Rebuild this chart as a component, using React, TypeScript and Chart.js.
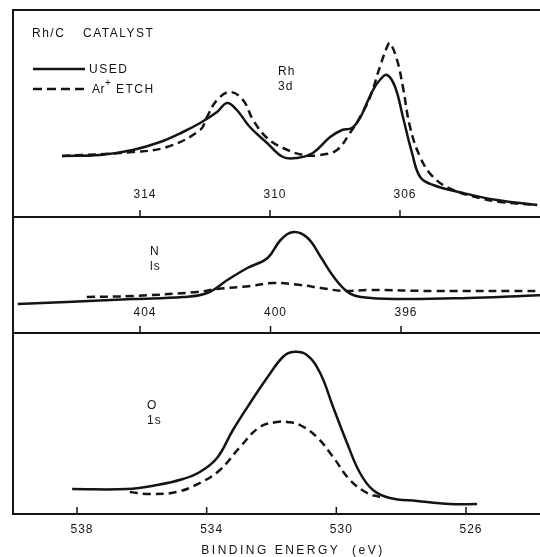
import React, { useEffect, useRef } from "react";
import { Chart, registerables } from "chart.js";

Chart.register(...registerables);

// ---------- Rh 3d panel ----------
const rhUsedEnergy = [316.4, 315.23, 314.22, 313.38, 312.68, 312.15, 311.63, 311.32, 311.02, 310.62, 310.09, 309.6, 309.17, 308.68, 308.15, 307.78, 307.48, 307.23, 307.02, 306.83, 306.62, 306.4, 306.15, 305.91, 305.63, 305.38, 304.98, 304.06, 303.02, 301.78];
const rhUsedCounts = [61, 62, 67, 75, 85, 94, 105, 114, 107, 90, 74, 60, 59, 64, 80, 87, 89, 99, 114, 127, 137, 142, 130, 100, 64, 40, 32, 24, 17, 12];
const rhEtchEnergy = [316.4, 314.22, 313.17, 312.15, 311.94, 311.63, 311.23, 310.83, 310.52, 310.09, 309.6, 308.98, 308.46, 307.94, 307.54, 307.23, 306.92, 306.62, 306.4, 306.31, 306.09, 305.91, 305.69, 305.38, 304.98, 304.37, 303.54, 302.92, 301.78];
const rhEtchCounts = [61, 65, 70, 87, 100, 117, 125, 117, 97, 79, 69, 62, 62, 67, 84, 100, 120, 150, 170, 174, 157, 130, 90, 60, 40, 27, 19, 15, 12];
const rhTicks = [314, 310, 306];

// ---------- N 1s panel ----------
const nUsedEnergy = [407.75, 406.25, 404.22, 402.68, 401.94, 401.32, 400.71, 400.09, 399.69, 399.29, 398.86, 398.46, 398.06, 397.63, 397.23, 396.0, 393.94, 392.31, 391.6];
const nUsedCounts = [29, 31, 34, 36, 40, 53, 65, 75, 93, 101, 95, 76, 56, 41, 36, 34, 35, 37, 38];
const nEtchEnergy = [405.63, 404.22, 402.25, 401.63, 400.62, 399.91, 399.08, 398.46, 397.75, 397.02, 394.98, 391.6];
const nEtchCounts = [36, 37, 41, 44, 47, 50, 48, 45, 42, 43, 42, 42];
const nTicks = [404, 400, 396];

// ---------- O 1s panel ----------
const oUsedEnergy = [538.15, 536.46, 535.53, 534.73, 534.21, 533.68, 533.19, 532.66, 532.14, 531.65, 531.34, 530.91, 530.5, 530.1, 529.67, 529.27, 528.87, 528.35, 527.51, 526.49, 525.66];
const oUsedCounts = [25, 25, 29, 35, 42, 56, 84, 111, 136, 157, 162, 159, 141, 107, 71, 41, 24, 16, 13, 10, 10];
const oEtchEnergy = [536.37, 535.75, 534.92, 534.21, 533.59, 532.97, 532.36, 531.83, 531.52, 531.12, 530.6, 530.1, 529.58, 529.05, 528.65];
const oEtchCounts = [22, 20, 22, 31, 44, 67, 87, 92, 92, 89, 77, 57, 34, 21, 17];
const oTicks = [538, 534, 530, 526];

const seriesNames = ["USED", "Ar + ETCH"];
const FONT = '"Liberation Sans", Arial, sans-serif';
const INK = "#141414";

function pts(xs: number[], ys: number[]) {
  return xs.map((x, i) => ({ x, y: ys[i] }));
}

type PanelCfg = {
  xMin: number;
  xMax: number;
  yMax: number;
  used: { x: number; y: number }[];
  etch: { x: number; y: number }[];
  ticks: number[];
  labelOffset: number;
  drawTop: boolean;
  padTop: number;
  padBottom: number;
  labelLines: string[];
  labelAt: { x: number; y: number };
  legend?: boolean;
  title?: string;
};

function makePlugin(cfg: PanelCfg) {
  return {
    id: "frame",
    afterDraw(chart: any) {
      const ctx = chart.ctx as CanvasRenderingContext2D;
      const ca = chart.chartArea;
      const xs = chart.scales.x;
      const ys = chart.scales.y;
      ctx.save();
      ctx.strokeStyle = INK;
      ctx.fillStyle = INK;
      ctx.lineWidth = 2;
      ctx.beginPath();
      if (cfg.drawTop) {
        ctx.moveTo(ca.right, ca.top);
        ctx.lineTo(ca.left, ca.top);
      } else {
        ctx.moveTo(ca.left, ca.top);
      }
      ctx.lineTo(ca.left, ca.bottom);
      ctx.lineTo(ca.right, ca.bottom);
      ctx.stroke();

      // ticks
      ctx.lineWidth = 1.5;
      ctx.font = `12px ${FONT}`;
      (ctx as any).letterSpacing = "1px";
      ctx.textAlign = "center";
      ctx.textBaseline = "middle";
      cfg.ticks.forEach((t) => {
        const px = xs.getPixelForValue(t);
        ctx.beginPath();
        ctx.moveTo(px, ca.bottom);
        ctx.lineTo(px, ca.bottom - 7);
        ctx.stroke();
        ctx.fillText(String(t), px + 5, ca.bottom + cfg.labelOffset);
      });

      // panel label
      ctx.textAlign = "left";
      const lx = xs.getPixelForValue(cfg.labelAt.x);
      const ly = ys.getPixelForValue(cfg.labelAt.y);
      cfg.labelLines.forEach((s, i) => {
        ctx.fillText(s, lx, ly + i * 15);
      });

      if (cfg.legend) {
        (ctx as any).letterSpacing = "1.5px";
        ctx.fillText("Rh/C", 32, 34);
        ctx.fillText("CATALYST", 83, 34);
        ctx.lineWidth = 2.5;
        ctx.beginPath();
        ctx.moveTo(33, 69);
        ctx.lineTo(85, 69);
        ctx.stroke();
        ctx.fillText(seriesNames[0], 89, 70);
        ctx.setLineDash([9, 5]);
        ctx.beginPath();
        ctx.moveTo(33, 89);
        ctx.lineTo(85, 89);
        ctx.stroke();
        ctx.setLineDash([]);
        (ctx as any).letterSpacing = "0.5px";
        ctx.fillText("Ar", 92, 90);
        ctx.font = `10px ${FONT}`;
        ctx.fillText("+", 105, 83);
        ctx.font = `12px ${FONT}`;
        (ctx as any).letterSpacing = "1.5px";
        ctx.fillText("ETCH", 116, 90);
      }

      if (cfg.title) {
        (ctx as any).letterSpacing = "2.5px";
        ctx.textAlign = "center";
        ctx.fillText(cfg.title, 293, 551 - chart.canvas.offsetTop);
      }
      ctx.restore();
    },
  };
}

function buildConfig(cfg: PanelCfg): any {
  const common = {
    borderColor: INK,
    borderWidth: 2.5,
    pointRadius: 0,
    fill: false,
    tension: 0.4,
  };
  return {
    type: "line",
    data: {
      datasets: [
        { ...common, label: seriesNames[0], data: cfg.used },
        { ...common, label: seriesNames[1], data: cfg.etch, borderDash: [8, 5] },
      ],
    },
    options: {
      responsive: false,
      animation: false,
      events: [],
      layout: { padding: { left: 13, right: 0, top: cfg.padTop, bottom: cfg.padBottom } },
      plugins: { legend: { display: false }, tooltip: { enabled: false } },
      scales: {
        x: { type: "linear", reverse: true, min: cfg.xMin, max: cfg.xMax, display: false },
        y: { type: "linear", min: 0, max: cfg.yMax, display: false },
      },
    },
    plugins: [makePlugin(cfg)],
  };
}

const panels: { top: number; height: number; cfg: PanelCfg }[] = [
  {
    top: 0,
    height: 219,
    cfg: {
      xMin: 301.538,
      xMax: 317.908,
      yMax: 207,
      used: pts(rhUsedEnergy, rhUsedCounts),
      etch: pts(rhEtchEnergy, rhEtchCounts),
      ticks: rhTicks,
      labelOffset: -22,
      drawTop: true,
      padTop: 10,
      padBottom: 2,
      labelLines: ["Rh", "3d"],
      labelAt: { x: 309.75, y: 145 },
      legend: true,
    },
  },
  {
    top: 215,
    height: 121,
    cfg: {
      xMin: 391.586,
      xMax: 407.893,
      yMax: 116,
      used: pts(nUsedEnergy, nUsedCounts),
      etch: pts(nEtchEnergy, nEtchCounts),
      ticks: nTicks,
      labelOffset: -20,
      drawTop: false,
      padTop: 2,
      padBottom: 3,
      labelLines: ["N", "ls"],
      labelAt: { x: 403.69, y: 81 },
    },
  },
  {
    top: 331,
    height: 226,
    cfg: {
      xMin: 523.563,
      xMax: 539.974,
      yMax: 181,
      used: pts(oUsedEnergy, oUsedCounts),
      etch: pts(oEtchEnergy, oEtchCounts),
      ticks: oTicks,
      labelOffset: 16,
      drawTop: false,
      padTop: 2,
      padBottom: 43,
      labelLines: ["O", "1s"],
      labelAt: { x: 535.84, y: 108 },
      title: "BINDING ENERGY  (eV)",
    },
  },
];

export default function App() {
  const refs = [useRef<HTMLCanvasElement>(null), useRef<HTMLCanvasElement>(null), useRef<HTMLCanvasElement>(null)];
  useEffect(() => {
    const charts = panels.map((p, i) => new Chart(refs[i].current as HTMLCanvasElement, buildConfig(p.cfg)));
    return () => charts.forEach((c) => c.destroy());
  }, []);
  return (
    <div
      style={{
        position: "absolute",
        left: 0,
        top: 0,
        width: 540,
        height: 557,
        overflow: "hidden",
        background: "#fff",
      }}
    >
      {panels.map((p, i) => (
        <canvas
          key={i}
          ref={refs[i]}
          width={545}
          height={p.height}
          style={{ position: "absolute", left: 0, top: p.top, width: 545, height: p.height }}
        />
      ))}
    </div>
  );
}
